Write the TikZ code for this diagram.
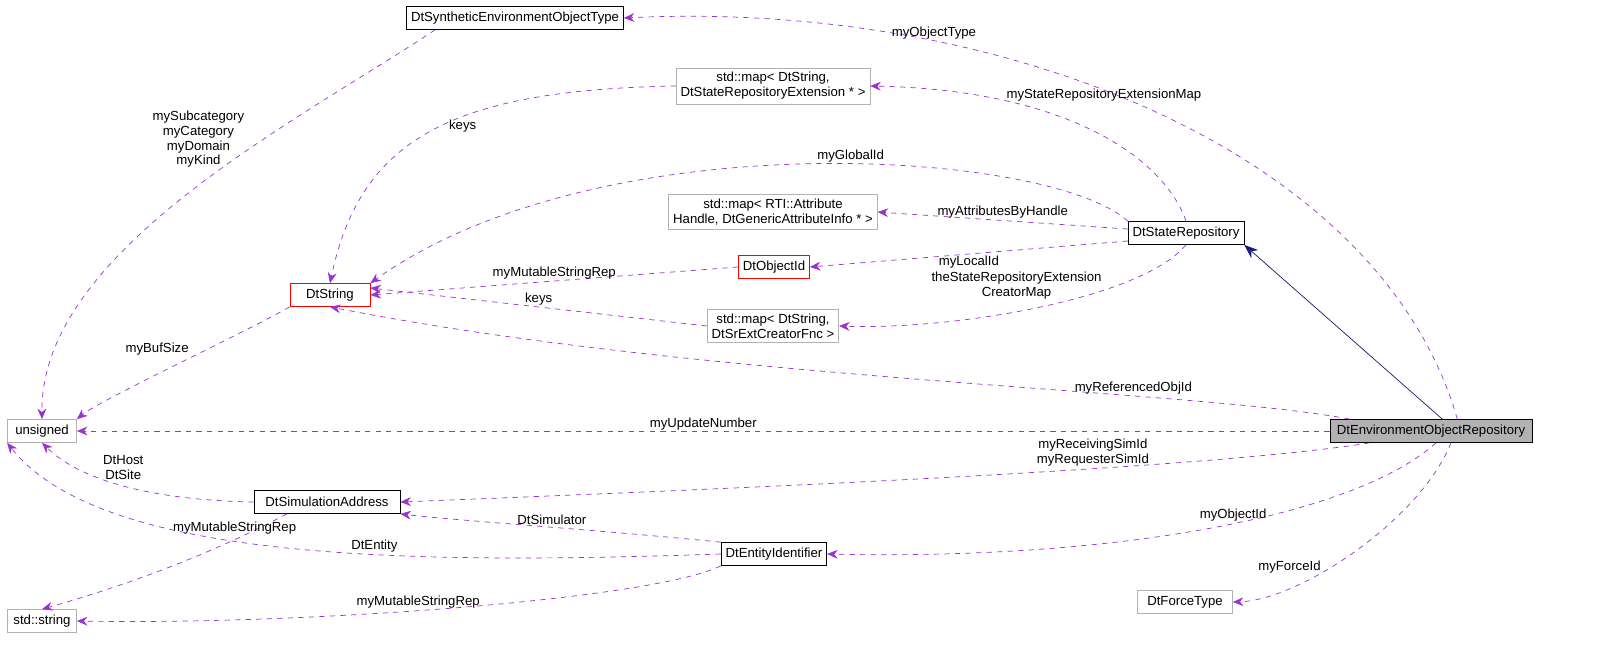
\documentclass[tikz,border=0pt]{standalone}
\usepackage{fontspec}
\setmainfont{Liberation Sans}
\usetikzlibrary{arrows.meta,positioning}
\definecolor{orchid}{HTML}{9A32CD}
\definecolor{navy}{HTML}{191970}
\begin{document}
\begin{tikzpicture}[x=0.02cm, y=-0.02cm, font=\fontsize{7.5}{8.5}\selectfont,
  box/.style={draw=black, fill=white, minimum height=0.46cm, inner sep=2.5pt, align=center},
  grey/.style={box, draw=gray!60},
  redbox/.style={box, draw=red},
  dep/.style={draw=orchid, dashed, -{Stealth[length=6pt,width=5pt]}},
  lbl/.style={align=center, inner sep=1pt}]
  \useasboundingbox (0,0) rectangle (1621,663);
  % classes
  \node[box] (synth) at (515,18) {DtSyntheticEnvironmentObjectType};
  \node[grey] (mapext) at (773,86) {std::map\textless{} DtString,\\ DtStateRepositoryExtension * \textgreater};
  \node[grey] (mapattr) at (773,212) {std::map\textless{} RTI::Attribute\\Handle, DtGenericAttributeInfo * \textgreater};
  \node[box] (staterep) at (1186,233) {DtStateRepository};
  \node[redbox] (objid) at (774,267) {DtObjectId};
  \node[redbox, minimum width=1.6cm] (dtstring) at (330,295) {DtString};
  \node[grey] (mapfnc) at (773,326) {std::map\textless{} DtString,\\ DtSrExtCreatorFnc \textgreater};
  \node[grey, minimum width=1.38cm] (unsigned) at (42,431) {unsigned};
  \node[box, fill=gray!60, minimum width=4.04cm] (envrep) at (1431,431) {DtEnvironmentObjectRepository};
  \node[box, minimum width=2.92cm] (simaddr) at (327,502) {DtSimulationAddress};
  \node[box] (entityid) at (774,554) {DtEntityIdentifier};
  \node[grey, minimum width=1.38cm] (stdstring) at (42,621) {std::string};
  \node[grey, minimum width=1.9cm] (force) at (1185,602) {DtForceType};
  % inheritance
  \draw[navy, -{Stealth[length=8pt,width=6pt]}] (envrep.north east) ++(-90,0) -- (staterep.south east);
  % usage
  \draw[dep] (envrep.north east) ++(-75,0) .. controls (1380,150) and (1000,0) .. (synth.east) node[lbl, pos=0.72, above] {myObjectType};
  \draw[dep] (synth.south) ++(-80,0) .. controls (300,120) and (40,250) .. (unsigned.north)
    node[lbl, pos=0.35, left=10pt] {mySubcategory\\myCategory\\myDomain\\myKind};
  \draw[dep] (mapext.west) .. controls (450,90) and (360,140) .. (dtstring.north) node[lbl, pos=0.5, above right=-1pt and 10pt] {keys};
  \draw[dep] (staterep.north) .. controls (1165,160) and (1070,90) .. (mapext.east) node[lbl, pos=0.75, above right=-2pt and 2pt] {myStateRepositoryExtensionMap};
  \draw[dep] (staterep.north west) .. controls (1050,150) and (600,120) .. (dtstring.north east) node[lbl, pos=0.45, above] {myGlobalId};
  \draw[dep] (staterep.west) ++(0,-4) -- (mapattr.east) node[lbl, midway, above] {myAttributesByHandle};
  \draw[dep] (staterep.west) ++(0,8) -- (objid.east) node[lbl, midway, below] {myLocalId};
  \draw[dep] (staterep.south) .. controls (1140,300) and (950,330) .. (mapfnc.east) node[lbl, pos=0.55, above=6pt] {theStateRepositoryExtension\\CreatorMap};
  \draw[dep] (objid.west) -- (dtstring.east) node[lbl, midway, above] {myMutableStringRep};
  \draw[dep] (mapfnc.west) -- ([yshift=4pt]dtstring.east) node[lbl, midway, above] {keys};
  \draw[dep] (dtstring.south west) .. controls (250,330) and (100,400) .. (unsigned.north east) node[lbl, pos=0.45, above left] {myBufSize};
  \draw[dep] (envrep.north west) ++(20,0) .. controls (1200,390) and (700,380) .. (dtstring.south) node[lbl, pos=0.3, above] {myReferencedObjId};
  \draw[dep] (envrep.west) -- (unsigned.east) node[lbl, midway, above=-1pt] {myUpdateNumber};
  \draw[dep] (envrep.south west) ++(40,0) .. controls (1200,470) and (700,490) .. (simaddr.east) node[lbl, pos=0.35, above] {myReceivingSimId\\myRequesterSimId};
  \draw[dep] (simaddr.west) .. controls (150,500) and (80,480) .. (unsigned.south) node[lbl, pos=0.5, above=2pt] {DtHost\\DtSite};
  \draw[dep] (simaddr.south) ++(-40,0) .. controls (200,560) and (110,590) .. (stdstring.north) node[lbl, pos=0.2, above=2pt] {myMutableStringRep};
  \draw[dep] (entityid.north west) .. controls (600,530) and (450,520) .. (simaddr.south east) node[lbl, pos=0.45, above] {DtSimulator};
  \draw[dep] (entityid.west) .. controls (400,565) and (100,560) .. (unsigned.south west) node[lbl, pos=0.38, above] {DtEntity};
  \draw[dep] (entityid.south west) .. controls (650,600) and (300,625) .. (stdstring.east) node[lbl, pos=0.55, above] {myMutableStringRep};
  \draw[dep] (envrep.south) ++(5,0) .. controls (1350,520) and (1100,560) .. (entityid.east) node[lbl, pos=0.45, above] {myObjectId};
  \draw[dep] (envrep.south) ++(20,0) .. controls (1420,520) and (1300,600) .. (force.east) node[lbl, pos=0.6, left=4pt] {myForceId};
\end{tikzpicture}
\end{document}
